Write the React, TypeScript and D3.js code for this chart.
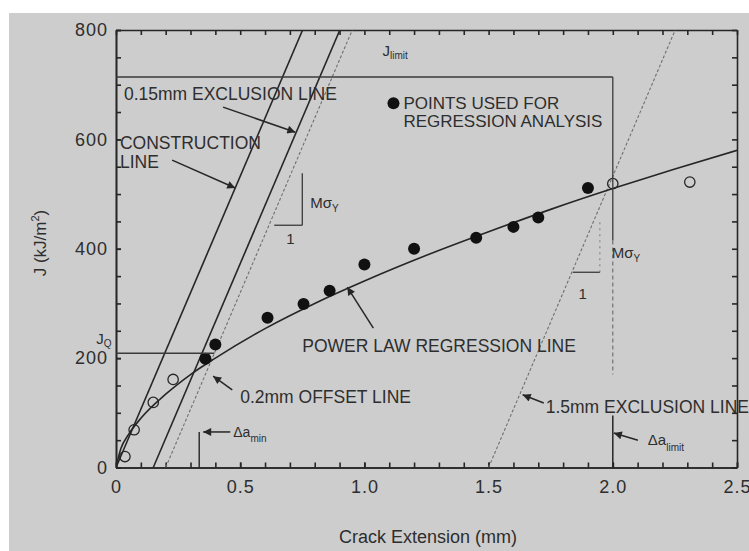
import React, { useEffect, useRef } from "react";
import * as d3 from "d3";

// axis ticks
const xTicks = [0, 0.5, 1.0, 1.5, 2.0, 2.5];
const xTickLabels = ["0", "0.5", "1.0", "1.5", "2.0", "2.5"];
const yTicks = [0, 200, 400, 600, 800];

// open circles (not used in the fit)
const openDa = [0.036, 0.073, 0.15, 0.23, 2.0, 2.31];
const openJ = [20, 69, 119, 161, 519, 522];

// filled circles (points used for regression analysis)
const usedDa = [0.36, 0.4, 0.61, 0.755, 0.86, 1.0, 1.2, 1.45, 1.6, 1.7, 1.9];
const usedJ = [199, 225, 274, 299, 323, 371, 400, 420, 440, 457, 511];

// power law regression line
const fitDa = [0, 0.02, 0.05, 0.1, 0.2, 0.3, 0.4, 0.6, 0.8, 1.0, 1.25, 1.5, 1.75, 2.0, 2.25, 2.5];
const fitJ = [0, 35, 60, 90, 134, 170, 200, 254, 300, 341, 388, 431, 472, 510, 546, 580];

// construction / exclusion / offset lines (slope 2 M sigma_Y)
const lineSlope = 1065;
const solidOffsets = [0, 0.15];
const lightOffsets = [0.2, 1.5];

const jLimit = 714;
const jQ = 209;
const jQEnd = 0.396;
const daMin = 0.335;
const daLimit = 2.0;

const font = "'Liberation Sans', Arial, Helvetica, sans-serif";
const ink = "#262626";

const App = () => {
  const ref = useRef<SVGSVGElement>(null);

  useEffect(() => {
    const svg = d3.select(ref.current);
    svg.selectAll("*").remove();

    const x = d3.scaleLinear().domain([0, 2.5]).range([116, 737]);
    const y = d3.scaleLinear().domain([0, 800]).range([467.5, 30]);

    svg.append("rect").attr("x", 9).attr("y", 13).attr("width", 740).attr("height", 538).attr("fill", "#cdcdcd");

    const defs = svg.append("defs");
    defs.append("clipPath").attr("id", "plot")
      .append("rect").attr("x", x(0)).attr("y", y(800)).attr("width", x(2.5) - x(0)).attr("height", y(0) - y(800));
    defs.append("marker")
      .attr("id", "ah").attr("viewBox", "0 0 10 10").attr("refX", 10).attr("refY", 5)
      .attr("markerWidth", 13).attr("markerHeight", 8).attr("markerUnits", "userSpaceOnUse")
      .attr("orient", "auto")
      .append("path").attr("d", "M0,0L10,5L0,10z").attr("fill", ink);

    // axes
    const styleAxis = (g) => {
      g.selectAll("path,line").attr("stroke", ink).attr("stroke-width", 1.6);
      g.selectAll("text").attr("font-family", font).attr("font-size", 18)
        .attr("letter-spacing", 1).attr("fill", "#2e2e2e");
    };
    svg.append("g").attr("transform", `translate(0,${y(0)})`)
      .call(d3.axisBottom(x).ticks(25).tickFormat(() => "").tickSizeInner(-5).tickSizeOuter(0))
      .call(styleAxis);
    svg.append("g").attr("transform", `translate(0,${y(0)})`)
      .call(d3.axisBottom(x).tickValues(xTicks).tickFormat((d, i) => xTickLabels[i]).tickSizeInner(-5).tickSizeOuter(0).tickPadding(13))
      .call(styleAxis);
    svg.append("g").attr("transform", `translate(0,${y(800)})`)
      .call(d3.axisTop(x).ticks(25).tickFormat(() => "").tickSizeInner(-5).tickSizeOuter(0))
      .call(styleAxis);
    svg.append("g").attr("transform", `translate(${x(0)},0)`)
      .call(d3.axisLeft(y).ticks(16).tickFormat(() => "").tickSizeInner(-5).tickSizeOuter(0))
      .call(styleAxis);
    svg.append("g").attr("transform", `translate(${x(0)},0)`)
      .call(d3.axisLeft(y).tickValues(yTicks).tickSizeInner(-5).tickSizeOuter(0).tickPadding(8))
      .call(styleAxis);
    svg.append("g").attr("transform", `translate(${x(2.5)},0)`)
      .call(d3.axisRight(y).ticks(16).tickFormat(() => "").tickSizeInner(-5).tickSizeOuter(0))
      .call(styleAxis);

    const plot = svg.append("g").attr("clip-path", "url(#plot)");

    // construction and exclusion lines
    plot.selectAll(".solidline").data(solidOffsets).join("line")
      .attr("x1", (d) => x(d)).attr("y1", y(0))
      .attr("x2", (d) => x(d + 800 / lineSlope)).attr("y2", y(800))
      .attr("stroke", ink).attr("stroke-width", 1.6);
    plot.selectAll(".lightline").data(lightOffsets).join("line")
      .attr("x1", (d) => x(d)).attr("y1", y(0))
      .attr("x2", (d) => x(d + 800 / lineSlope)).attr("y2", y(800))
      .attr("stroke", "#6f6f6f").attr("stroke-width", 1.1).attr("stroke-dasharray", "3,2");

    // J limit, J_Q, delta a min, delta a limit
    const seg = (a0, j0, a1, j1, stroke, w, dash) =>
      svg.append("line").attr("x1", x(a0)).attr("y1", y(j0)).attr("x2", x(a1)).attr("y2", y(j1))
        .attr("stroke", stroke).attr("stroke-width", w).attr("stroke-dasharray", dash);
    seg(0, jLimit, daLimit, jLimit, "#3a3a3a", 1.4, null);
    seg(daLimit, jLimit, daLimit, 415, "#3a3a3a", 1.3, null);
    seg(daLimit, 415, daLimit, 170, "#6a6a6a", 1.1, "4,3");
    seg(daLimit, 95, daLimit, 0, ink, 1.5, null);
    seg(0, jQ, jQEnd, jQ, "#3a3a3a", 1.4, null);
    seg(daMin, 0, daMin, 65, ink, 1.4, null);

    // slope triangles
    seg(0.637, 443, 0.75, 443, "#3a3a3a", 1.3, null);
    seg(0.75, 443, 0.75, 538, "#3a3a3a", 1.3, null);
    seg(1.839, 357, 1.948, 357, "#3a3a3a", 1.3, null);
    seg(1.948, 357, 1.948, 452, "#7a7a7a", 1, "2,4");

    // regression curve
    const curve = d3.line().x((d) => x(d[0])).y((d) => y(d[1])).curve(d3.curveMonotoneX);
    plot.append("path").attr("d", curve(fitDa.map((d, i) => [d, fitJ[i]])))
      .attr("fill", "none").attr("stroke", ink).attr("stroke-width", 1.6);

    // points
    plot.selectAll(".open").data(openDa).join("circle")
      .attr("cx", (d) => x(d)).attr("cy", (d, i) => y(openJ[i])).attr("r", 5.2)
      .attr("fill", "none").attr("stroke", ink).attr("stroke-width", 1.3);
    plot.selectAll(".used").data(usedDa).join("circle")
      .attr("cx", (d) => x(d)).attr("cy", (d, i) => y(usedJ[i])).attr("r", 6)
      .attr("fill", "#111");

    // arrows
    const arrow = (a0, j0, a1, j1) =>
      svg.append("line").attr("x1", x(a0)).attr("y1", y(j0)).attr("x2", x(a1)).attr("y2", y(j1))
        .attr("stroke", ink).attr("stroke-width", 1.5).attr("marker-end", "url(#ah)");
    arrow(0.226, 562, 0.48, 511);
    arrow(0.431, 659, 0.722, 613);
    arrow(0.468, 142, 0.391, 167);
    arrow(1.036, 255, 0.931, 330);
    arrow(1.722, 118, 1.637, 133);
    arrow(2.101, 50, 2.004, 63);
    arrow(0.46, 65, 0.351, 65);

    // labels
    const label = (a, j, str, size = 17.5, anchor = "start") =>
      svg.append("text").attr("x", x(a)).attr("y", y(j)).text(str)
        .attr("font-family", font).attr("font-size", size).attr("fill", "#2e2e2e").attr("text-anchor", anchor);
    label(0.032, 672, "0.15mm EXCLUSION LINE");
    label(0.016, 582, "CONSTRUCTION");
    label(0.016, 548, "LINE");
    label(1.157, 656, "POINTS USED FOR", 17);
    label(1.157, 622, "REGRESSION ANALYSIS", 17);
    label(0.5, 118, "0.2mm OFFSET LINE");
    label(0.75, 211, "POWER LAW REGRESSION LINE");
    label(1.73, 100, "1.5mm EXCLUSION LINE");
    label(0.702, 409, "1", 15, "middle");
    label(1.879, 308, "1", 15, "middle");
    svg.append("circle").attr("cx", x(1.117)).attr("cy", y(666)).attr("r", 6).attr("fill", "#111");

    const sub = (a, j, main, s, size, subSize, dy) => {
      const t = svg.append("text").attr("x", x(a)).attr("y", y(j))
        .attr("font-family", font).attr("font-size", size).attr("fill", "#2e2e2e");
      t.append("tspan").text(main);
      t.append("tspan").attr("font-size", subSize).attr("dy", dy).text(s);
    };
    sub(0.782, 474, "M\u03c3", "Y", 15, 10, 4);
    sub(1.996, 383, "M\u03c3", "Y", 15, 10, 4);
    sub(1.073, 752, "J", "limit", 15, 10, 3);
    sub(-0.08, 226, "J", "Q", 15, 10, 3);
    sub(0.472, 56, "\u0394a", "min", 14, 10, 5);
    sub(2.141, 41, "\u0394a", "limit", 15, 10, 6);

    // axis titles
    const yt = svg.append("text").attr("transform", "translate(46,243) rotate(-90)")
      .attr("text-anchor", "middle").attr("font-family", font).attr("font-size", 17).attr("fill", "#2e2e2e");
    yt.append("tspan").text("J (kJ/m");
    yt.append("tspan").attr("font-size", 11).attr("dy", -7).text("2");
    yt.append("tspan").attr("dy", 7).text(")");
    svg.append("text").attr("x", 428).attr("y", 543).attr("text-anchor", "middle")
      .attr("font-family", font).attr("font-size", 18).attr("fill", "#2e2e2e")
      .text("Crack Extension (mm)");
  }, []);

  return (
    <svg ref={ref} width={749} height={551} style={{ position: "absolute", left: 0, top: 0, background: "#fff" }} />
  );
};

export default App;
